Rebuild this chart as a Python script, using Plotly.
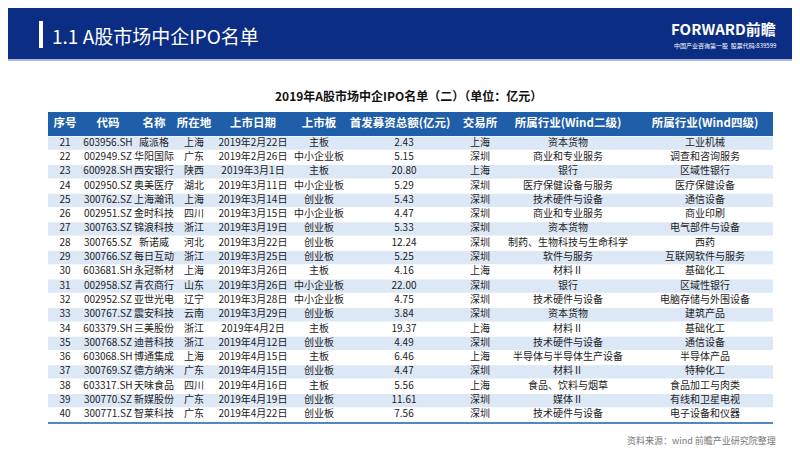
import plotly.graph_objects as go

seq = list(range(21, 41))
codes = ["603956.SH","002949.SZ","600928.SH","002950.SZ","300762.SZ","002951.SZ","300763.SZ","300765.SZ","300766.SZ","603681.SH",
         "002958.SZ","002952.SZ","300767.SZ","603379.SH","300768.SZ","603068.SH","300769.SZ","603317.SH","300770.SZ","300771.SZ"]
names = ["威派格","华阳国际","西安银行","奥美医疗","上海瀚讯","金时科技","锦浪科技","新诺威","每日互动","永冠新材",
         "青农商行","亚世光电","震安科技","三美股份","迪普科技","博通集成","德方纳米","天味食品","新媒股份","智莱科技"]
places = ["上海","广东","陕西","湖北","上海","四川","浙江","河北","浙江","上海",
          "山东","辽宁","云南","浙江","浙江","上海","广东","四川","广东","广东"]
dates = ["2019年2月22日","2019年2月26日","2019年3月1日","2019年3月11日","2019年3月14日","2019年3月15日","2019年3月19日","2019年3月22日","2019年3月25日","2019年3月26日",
         "2019年3月26日","2019年3月28日","2019年3月29日","2019年4月2日","2019年4月12日","2019年4月15日","2019年4月15日","2019年4月16日","2019年4月19日","2019年4月22日"]
boards = ["主板","中小企业板","主板","中小企业板","创业板","中小企业板","创业板","创业板","创业板","主板",
          "中小企业板","中小企业板","创业板","主板","创业板","主板","创业板","主板","创业板","创业板"]
amounts = [2.43,5.15,20.80,5.29,5.43,4.47,5.33,12.24,5.25,4.16,22.00,4.75,3.84,19.37,4.49,6.46,4.47,5.56,11.61,7.56]
exchanges = ["上海","深圳","上海","深圳","深圳","深圳","深圳","深圳","深圳","上海",
             "深圳","深圳","深圳","上海","深圳","上海","深圳","上海","深圳","深圳"]
ind2 = ["资本货物","商业和专业服务","银行","医疗保健设备与服务","技术硬件与设备","商业和专业服务","资本货物","制药、生物科技与生命科学","软件与服务","材料Ⅱ",
        "银行","技术硬件与设备","资本货物","材料Ⅱ","技术硬件与设备","半导体与半导体生产设备","材料Ⅱ","食品、饮料与烟草","媒体Ⅱ","技术硬件与设备"]
ind4 = ["工业机械","调查和咨询服务","区域性银行","医疗保健设备","通信设备","商业印刷","电气部件与设备","西药","互联网软件与服务","基础化工",
        "区域性银行","电脑存储与外围设备","建筑产品","基础化工","通信设备","半导体产品","特种化工","食品加工与肉类","有线和卫星电视","电子设备和仪器"]
headers = ["序号","代码","名称","所在地","上市日期","上市板","首发募资总额(亿元)","交易所","所属行业(Wind二级)","所属行业(Wind四级)"]

F = "Noto Sans CJK SC"
# layout geometry (pixels)
X0, X1 = 40, 765
HEAD_TOP, HEAD_BOT = 104, 128
ROW_H = 14.3
col_centers = [57, 100, 146, 186, 245, 311, 396, 472, 560, 697]
head_centers = [57, 100, 146, 186, 245, 311, 392, 472, 560, 697]

n = len(seq)
row_y = [HEAD_BOT + ROW_H * (i + 0.5) for i in range(n)]
columns = [[str(s) for s in seq], codes, names, places, dates, boards, ["%.2f" % a for a in amounts], exchanges, ind2, ind4]

fig = go.Figure()
for cx, col in zip(col_centers, columns):
    fig.add_trace(go.Scatter(x=[cx] * n, y=row_y, text=col, mode="text", textposition="middle center",
                             textfont=dict(family=F, size=10, color="#222222"), hoverinfo="skip", showlegend=False))
fig.add_trace(go.Scatter(x=head_centers, y=[(HEAD_TOP + HEAD_BOT) / 2] * len(headers), text=["<b>%s</b>" % h for h in headers],
                         mode="text", textfont=dict(family=F, size=11.5, color="white"), hoverinfo="skip", showlegend=False))

shapes = [
    dict(type="rect", xref="x", yref="y", x0=0, x1=800, y0=0, y1=51, fillcolor="#0b2d84", line_width=0, layer="below"),
    dict(type="line", xref="x", yref="y", x0=0, x1=800, y0=52, y1=52, line=dict(color="#8ea2d0", width=1.5)),
    dict(type="rect", xref="x", yref="y", x0=31, x1=35, y0=13, y1=40, fillcolor="white", line_width=0),
    dict(type="rect", xref="x", yref="y", x0=X0, x1=X1, y0=HEAD_TOP, y1=HEAD_BOT, fillcolor="#1f5ea8", line_width=0, layer="below"),
    dict(type="line", xref="x", yref="y", x0=X0, x1=X1, y0=HEAD_BOT + ROW_H * n + 1, y1=HEAD_BOT + ROW_H * n + 1,
         line=dict(color="#1f5ea8", width=1.5)),
]
for i in range(n):
    if i % 2 == 0:
        shapes.append(dict(type="rect", xref="x", yref="y", x0=X0, x1=X1, y0=HEAD_BOT + ROW_H * i + 0.5,
                           y1=HEAD_BOT + ROW_H * (i + 1) - 0.5, fillcolor="#dde8f6", line_width=0, layer="below"))

fig.update_layout(
    width=800, height=450, margin=dict(l=0, r=0, t=0, b=0), paper_bgcolor="white", plot_bgcolor="white",
    xaxis=dict(range=[0, 800], visible=False, fixedrange=True),
    yaxis=dict(range=[450, 0], visible=False, fixedrange=True),
    shapes=shapes,
    annotations=[
        dict(text="1.1 A股市场中企IPO名单", x=42, y=27, xanchor="left", yanchor="middle",
             showarrow=False, font=dict(family=F, size=19, color="white")),
        dict(text="<b>FORWARD前瞻</b>", x=770, y=20, xanchor="right", yanchor="middle",
             showarrow=False, font=dict(family=F, size=15, color="white")),
        dict(text="中国产业咨询第一股  股票代码:839599", x=770, y=37, xanchor="right", yanchor="middle",
             showarrow=False, font=dict(family=F, size=6, color="white")),
        dict(text="<b>2019年A股市场中企IPO名单（二）（单位：亿元）</b>", x=400, y=87, xanchor="center", yanchor="middle",
             showarrow=False, font=dict(family=F, size=12, color="#111111")),
        dict(text="资料来源：wind 前瞻产业研究院整理", x=770, y=432, xanchor="right", yanchor="middle",
             showarrow=False, font=dict(family=F, size=9, color="#777777")),
    ],
)
fig.write_html("out.html")
